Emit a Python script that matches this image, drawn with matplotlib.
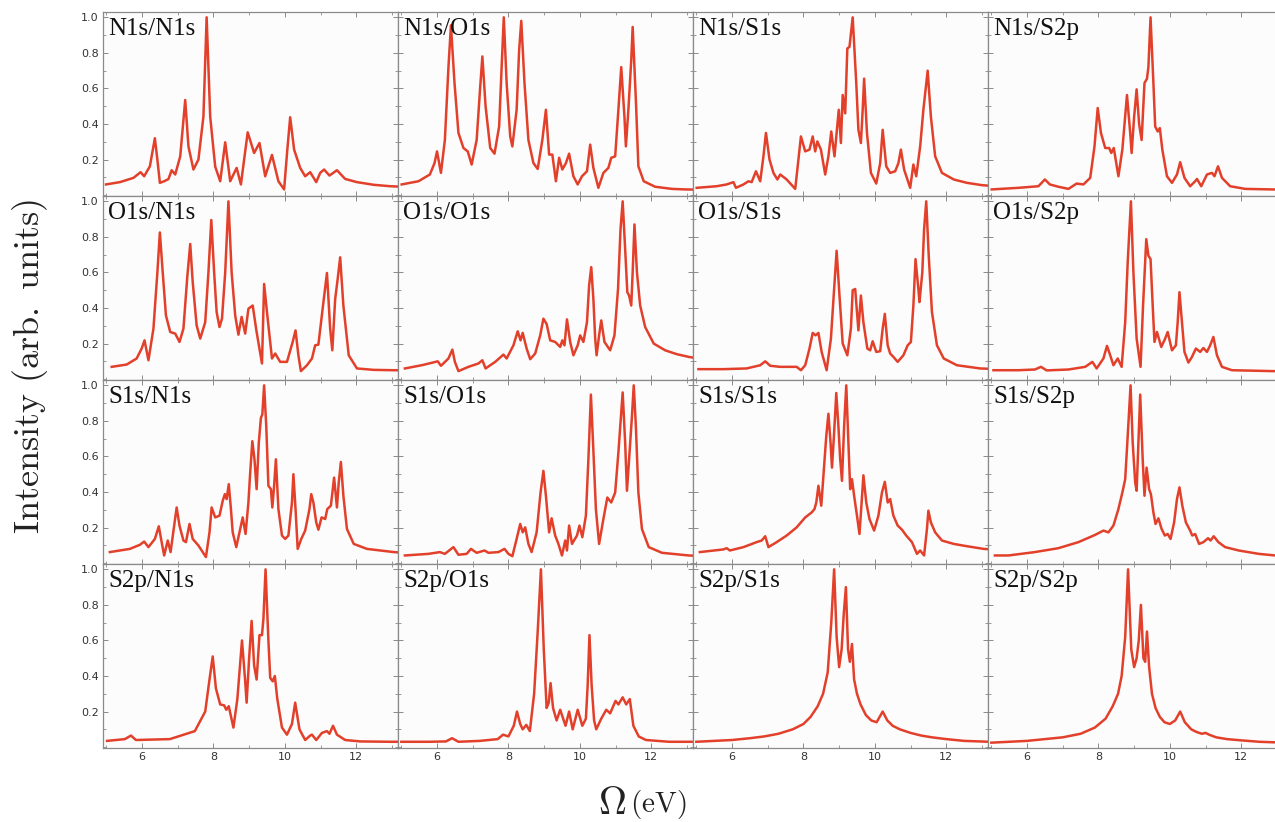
import numpy as np
import matplotlib.pyplot as plt
import matplotlib as mpl
from matplotlib.ticker import MultipleLocator

mpl.rcParams['mathtext.fontset'] = 'cm'

# ==========================================
# panel labels (rows: first core hole, cols: second core hole)
# ==========================================
EDGES = ['N1s', 'O1s', 'S1s', 'S2p']
X_TICKS = [6, 8, 10, 12]
Y_TICKS = [0.2, 0.4, 0.6, 0.8, 1.0]

# ==========================================
# spectra: energy (eV) / intensity (arb. units)
# ==========================================
n1s_n1s_ev = [4.99, 5.38, 5.76, 5.96, 6.06, 6.22, 6.36, 6.43, 6.50, 6.62, 6.74, 6.83, 6.93, 7.07, 7.21,
              7.30, 7.44, 7.58, 7.72, 7.81, 7.91, 8.05, 8.19, 8.33, 8.47, 8.65, 8.77, 8.86, 8.96, 9.14,
              9.29, 9.45, 9.64, 9.82, 9.98, 10.07, 10.15, 10.26, 10.43, 10.57, 10.71, 10.88, 10.99,
              11.10, 11.25, 11.46, 11.69, 12.02, 12.49, 12.95, 13.2]
n1s_n1s_int = [0.06, 0.073, 0.097, 0.129, 0.106, 0.162, 0.32, 0.20, 0.069, 0.078, 0.09, 0.14, 0.116,
               0.218, 0.535, 0.274, 0.144, 0.20, 0.442, 1.0, 0.44, 0.16, 0.078, 0.297, 0.078, 0.153,
               0.06, 0.20, 0.353, 0.237, 0.293, 0.106, 0.226, 0.078, 0.032, 0.256, 0.438, 0.256, 0.153,
               0.106, 0.129, 0.073, 0.125, 0.144, 0.11, 0.14, 0.091, 0.073, 0.058, 0.05, 0.048]

n1s_o1s_ev = [5.01, 5.48, 5.80, 5.93, 6.00, 6.11, 6.22, 6.32, 6.39, 6.49, 6.60, 6.74, 6.86, 6.97, 7.11,
              7.21, 7.27, 7.36, 7.49, 7.61, 7.74, 7.81, 7.87, 7.95, 8.05, 8.11, 8.23, 8.30, 8.36, 8.45,
              8.56, 8.70, 8.82, 8.95, 9.05, 9.14, 9.23, 9.33, 9.42, 9.51, 9.61, 9.70, 9.82, 9.94,
              10.06, 10.20, 10.29, 10.38, 10.52, 10.66, 10.80, 10.88, 10.99, 11.08, 11.16, 11.25,
              11.29, 11.36, 11.44, 11.48, 11.57, 11.64, 11.79, 12.11, 12.58, 12.95, 13.2]
n1s_o1s_int = [0.06, 0.078, 0.116, 0.18, 0.246, 0.125, 0.31, 0.72, 0.955, 0.63, 0.35, 0.265, 0.246,
               0.172, 0.31, 0.61, 0.78, 0.50, 0.265, 0.233, 0.386, 0.72, 1.0, 0.63, 0.33, 0.274, 0.48,
               0.815, 0.98, 0.63, 0.31, 0.18, 0.147, 0.31, 0.48, 0.228, 0.228, 0.078, 0.21, 0.144,
               0.18, 0.233, 0.106, 0.06, 0.106, 0.134, 0.284, 0.153, 0.041, 0.125, 0.153, 0.21, 0.218,
               0.48, 0.72, 0.44, 0.274, 0.48, 0.757, 0.946, 0.535, 0.162, 0.078, 0.047, 0.035, 0.032,
               0.031]

n1s_s1s_ev = [5.01, 5.57, 5.85, 6.04, 6.11, 6.32, 6.46, 6.55, 6.67, 6.79, 6.88, 6.95, 7.05, 7.16, 7.27,
              7.35, 7.53, 7.77, 7.86, 7.93, 8.05, 8.17, 8.26, 8.33, 8.39, 8.49, 8.61, 8.70, 8.78, 8.87,
              8.93, 8.99, 9.05, 9.10, 9.17, 9.23, 9.29, 9.38, 9.48, 9.54, 9.61, 9.66, 9.70, 9.78, 9.89,
              10.04, 10.15, 10.22, 10.32, 10.43, 10.57, 10.66, 10.73, 10.82, 10.99, 11.08, 11.16,
              11.27, 11.36, 11.48, 11.57, 11.69, 11.88, 12.21, 12.58, 13.0, 13.2]
n1s_s1s_int = [0.041, 0.05, 0.06, 0.073, 0.041, 0.06, 0.078, 0.073, 0.134, 0.078, 0.218, 0.35, 0.20,
               0.125, 0.088, 0.116, 0.088, 0.035, 0.20, 0.33, 0.246, 0.256, 0.33, 0.246, 0.302, 0.256,
               0.116, 0.218, 0.358, 0.218, 0.35, 0.48, 0.293, 0.563, 0.46, 0.825, 0.834, 1.0, 0.63,
               0.367, 0.293, 0.48, 0.655, 0.35, 0.125, 0.065, 0.18, 0.367, 0.162, 0.125, 0.134, 0.18,
               0.256, 0.144, 0.041, 0.172, 0.106, 0.274, 0.48, 0.70, 0.442, 0.218, 0.125, 0.088, 0.069,
               0.056, 0.053]

n1s_s2p_ev = [5.01, 5.76, 6.32, 6.50, 6.64, 6.88, 7.16, 7.39, 7.58, 7.77, 7.89, 7.98, 8.07, 8.19, 8.30,
              8.36, 8.43, 8.56, 8.67, 8.80, 8.89, 8.93, 9.00, 9.07, 9.14, 9.21, 9.29, 9.36, 9.40, 9.46,
              9.54, 9.59, 9.66, 9.72, 9.79, 9.92, 10.06, 10.20, 10.29, 10.41, 10.57, 10.71, 10.76,
              10.88, 11.04, 11.18, 11.25, 11.35, 11.46, 11.69, 12.11, 12.86, 13.2]
n1s_s2p_int = [0.032, 0.041, 0.05, 0.088, 0.06, 0.047, 0.035, 0.065, 0.06, 0.097, 0.274, 0.49, 0.35,
               0.265, 0.265, 0.237, 0.265, 0.106, 0.256, 0.563, 0.35, 0.237, 0.44, 0.595, 0.40, 0.31,
               0.63, 0.655, 0.72, 1.0, 0.63, 0.386, 0.358, 0.377, 0.256, 0.106, 0.069, 0.116, 0.185,
               0.097, 0.05, 0.078, 0.091, 0.05, 0.116, 0.125, 0.106, 0.162, 0.097, 0.05, 0.035, 0.032,
               0.031]

o1s_n1s_ev = [5.15, 5.57, 5.85, 5.99, 6.07, 6.18, 6.32, 6.43, 6.50, 6.58, 6.67, 6.79, 6.93, 7.05, 7.16,
              7.27, 7.35, 7.42, 7.53, 7.63, 7.77, 7.86, 7.94, 8.02, 8.09, 8.17, 8.24, 8.33, 8.42, 8.51,
              8.61, 8.70, 8.79, 8.89, 8.98, 9.10, 9.21, 9.36, 9.42, 9.50, 9.57, 9.64, 9.73, 9.87,
              10.06, 10.22, 10.30, 10.38, 10.45, 10.62, 10.76, 10.85, 10.94, 11.07, 11.18, 11.27,
              11.33, 11.41, 11.48, 11.55, 11.64, 11.79, 12.02, 12.49, 13.05, 13.2]
o1s_n1s_int = [0.069, 0.082, 0.116, 0.172, 0.218, 0.106, 0.284, 0.60, 0.825, 0.60, 0.358, 0.265, 0.256,
               0.209, 0.284, 0.58, 0.76, 0.545, 0.302, 0.228, 0.32, 0.60, 0.895, 0.60, 0.377, 0.293,
               0.34, 0.60, 1.0, 0.60, 0.358, 0.25, 0.35, 0.256, 0.396, 0.414, 0.265, 0.088, 0.535, 0.377,
               0.246, 0.116, 0.144, 0.097, 0.097, 0.209, 0.274, 0.134, 0.045, 0.078, 0.116, 0.19, 0.194,
               0.414, 0.597, 0.284, 0.162, 0.45, 0.563, 0.685, 0.414, 0.134, 0.06, 0.052, 0.05, 0.05]

o1s_o1s_ev = [5.10, 5.57, 6.02, 6.11, 6.32, 6.43, 6.50, 6.60, 6.88, 7.16, 7.27, 7.36, 7.63, 7.86, 7.95,
              8.14, 8.26, 8.34, 8.40, 8.51, 8.61, 8.75, 8.89, 8.98, 9.07, 9.17, 9.31, 9.45, 9.51, 9.57,
              9.64, 9.73, 9.82, 9.94, 10.01, 10.10, 10.20, 10.26, 10.32, 10.38, 10.43, 10.47, 10.54,
              10.60, 10.69, 10.85, 10.97, 11.07, 11.14, 11.20, 11.27, 11.33, 11.38, 11.44, 11.48,
              11.53, 11.60, 11.69, 11.83, 12.07, 12.39, 12.72, 13.05, 13.2]
o1s_o1s_int = [0.06, 0.078, 0.10, 0.075, 0.116, 0.166, 0.097, 0.045, 0.069, 0.088, 0.106, 0.06, 0.097,
               0.138, 0.116, 0.19, 0.269, 0.218, 0.26, 0.172, 0.112, 0.144, 0.246, 0.34, 0.31, 0.218,
               0.209, 0.181, 0.218, 0.19, 0.336, 0.209, 0.134, 0.19, 0.246, 0.209, 0.32, 0.526, 0.63,
               0.45, 0.228, 0.134, 0.246, 0.33, 0.209, 0.162, 0.246, 0.507, 0.843, 1.0, 0.73, 0.489,
               0.47, 0.414, 0.60, 0.87, 0.60, 0.414, 0.293, 0.20, 0.162, 0.14, 0.125, 0.12]

o1s_s1s_ev = [5.06, 5.76, 6.41, 6.79, 6.93, 7.07, 7.35, 7.81, 7.93, 8.05, 8.17, 8.26, 8.34, 8.42, 8.51,
              8.65, 8.77, 8.86, 8.93, 9.01, 9.10, 9.23, 9.33, 9.38, 9.45, 9.54, 9.61, 9.68, 9.79, 9.87,
              9.94, 10.04, 10.15, 10.22, 10.28, 10.36, 10.43, 10.52, 10.64, 10.80, 10.92, 11.01,
              11.08, 11.14, 11.22, 11.25, 11.33, 11.38, 11.44, 11.51, 11.60, 11.74, 11.93, 12.30,
              12.95, 13.2]
o1s_s1s_int = [0.056, 0.056, 0.06, 0.078, 0.10, 0.075, 0.069, 0.069, 0.05, 0.078, 0.172, 0.26, 0.246,
               0.26, 0.153, 0.05, 0.228, 0.507, 0.722, 0.47, 0.20, 0.134, 0.284, 0.50, 0.507, 0.274,
               0.47, 0.32, 0.172, 0.162, 0.213, 0.153, 0.157, 0.284, 0.367, 0.19, 0.144, 0.125, 0.097,
               0.134, 0.19, 0.209, 0.414, 0.675, 0.507, 0.433, 0.60, 0.843, 1.0, 0.694, 0.377, 0.19,
               0.116, 0.078, 0.06, 0.058]

o1s_s2p_ev = [5.06, 5.76, 6.22, 6.39, 6.55, 7.16, 7.63, 7.83, 7.95, 8.14, 8.24, 8.33, 8.42, 8.54, 8.65,
              8.75, 8.82, 8.91, 8.98, 9.07, 9.18, 9.25, 9.34, 9.40, 9.46, 9.52, 9.57, 9.64, 9.76, 9.87,
              9.94, 10.06, 10.17, 10.22, 10.27, 10.34, 10.41, 10.52, 10.62, 10.73, 10.85, 10.94,
              11.04, 11.13, 11.22, 11.32, 11.46, 11.74, 12.86, 13.2]
o1s_s2p_int = [0.05, 0.05, 0.054, 0.069, 0.049, 0.054, 0.069, 0.097, 0.06, 0.116, 0.187, 0.134, 0.078,
               0.116, 0.069, 0.32, 0.657, 1.0, 0.60, 0.228, 0.069, 0.414, 0.787, 0.694, 0.675, 0.414,
               0.209, 0.265, 0.181, 0.228, 0.265, 0.162, 0.19, 0.32, 0.489, 0.32, 0.153, 0.093, 0.125,
               0.172, 0.153, 0.175, 0.153, 0.19, 0.237, 0.134, 0.069, 0.05, 0.045, 0.045]

s1s_n1s_ev = [5.10, 5.66, 5.94, 6.06, 6.18, 6.36, 6.47, 6.55, 6.62, 6.72, 6.80, 6.90, 6.97, 7.05, 7.16,
              7.23, 7.33, 7.42, 7.58, 7.79, 7.89, 7.95, 8.05, 8.17, 8.26, 8.32, 8.37, 8.43, 8.49, 8.54,
              8.64, 8.73, 8.82, 8.90, 8.98, 9.03, 9.09, 9.15, 9.21, 9.27, 9.33, 9.37, 9.42, 9.48, 9.54,
              9.61, 9.65, 9.70, 9.75, 9.82, 9.92, 10.01, 10.10, 10.20, 10.24, 10.30, 10.36, 10.46,
              10.57, 10.69, 10.74, 10.80, 10.88, 10.94, 11.03, 11.13, 11.19, 11.29, 11.38, 11.46,
              11.51, 11.57, 11.64, 11.74, 11.93, 12.30, 13.05, 13.2]
s1s_n1s_int = [0.062, 0.08, 0.103, 0.121, 0.09, 0.136, 0.207, 0.118, 0.043, 0.127, 0.062, 0.21, 0.313,
               0.21, 0.127, 0.118, 0.22, 0.136, 0.099, 0.034, 0.173, 0.313, 0.257, 0.267, 0.35, 0.388,
               0.36, 0.444, 0.304, 0.173, 0.09, 0.173, 0.257, 0.164, 0.341, 0.509, 0.686, 0.584, 0.416,
               0.675, 0.817, 0.836, 1.0, 0.77, 0.435, 0.416, 0.313, 0.435, 0.584, 0.304, 0.155, 0.136,
               0.155, 0.341, 0.50, 0.304, 0.08, 0.136, 0.183, 0.304, 0.388, 0.341, 0.229, 0.188, 0.257,
               0.248, 0.304, 0.323, 0.481, 0.313, 0.453, 0.569, 0.379, 0.192, 0.108, 0.08, 0.062, 0.06]

s1s_o1s_ev = [5.10, 5.76, 6.08, 6.22, 6.46, 6.60, 6.83, 6.95, 7.11, 7.33, 7.44, 7.72, 7.89, 8.00, 8.11,
              8.23, 8.33, 8.40, 8.47, 8.56, 8.65, 8.79, 8.90, 8.98, 9.05, 9.14, 9.21, 9.31, 9.40, 9.50,
              9.59, 9.64, 9.70, 9.78, 9.92, 9.99, 10.07, 10.17, 10.24, 10.31, 10.37, 10.45, 10.54,
              10.66, 10.77, 10.88, 10.99, 11.08, 11.20, 11.27, 11.32, 11.38, 11.46, 11.51, 11.57,
              11.64, 11.74, 11.93, 12.30, 13.05, 13.2]
s1s_o1s_int = [0.043, 0.052, 0.062, 0.052, 0.09, 0.047, 0.052, 0.08, 0.058, 0.071, 0.058, 0.062, 0.08,
               0.052, 0.039, 0.136, 0.22, 0.173, 0.201, 0.108, 0.062, 0.173, 0.397, 0.519, 0.379, 0.173,
               0.252, 0.155, 0.108, 0.043, 0.127, 0.071, 0.211, 0.108, 0.155, 0.211, 0.146, 0.267,
               0.584, 0.948, 0.677, 0.304, 0.108, 0.248, 0.369, 0.341, 0.397, 0.622, 0.96, 0.677, 0.407,
               0.584, 0.826, 1.0, 0.77, 0.397, 0.192, 0.09, 0.058, 0.043, 0.042]

s1s_s1s_ev = [5.10, 5.76, 5.85, 5.94, 6.32, 6.69, 6.83, 6.93, 7.02, 7.25, 7.53, 7.81, 8.05, 8.23, 8.31,
              8.36, 8.42, 8.50, 8.56, 8.64, 8.70, 8.76, 8.80, 8.86, 8.92, 8.98, 9.03, 9.08, 9.14, 9.20,
              9.26, 9.31, 9.36, 9.42, 9.50, 9.57, 9.63, 9.68, 9.76, 9.85, 9.98, 10.10, 10.20, 10.28,
              10.36, 10.43, 10.52, 10.64, 10.76, 10.88, 11.04, 11.18, 11.27, 11.38, 11.46, 11.50,
              11.57, 11.69, 11.88, 12.21, 12.58, 13.05, 13.2]
s1s_s1s_int = [0.062, 0.077, 0.084, 0.071, 0.09, 0.118, 0.127, 0.151, 0.09, 0.118, 0.155, 0.201, 0.257,
               0.285, 0.304, 0.341, 0.435, 0.323, 0.491, 0.715, 0.84, 0.677, 0.537, 0.733, 0.957, 0.77,
               0.584, 0.463, 0.77, 1.0, 0.677, 0.416, 0.472, 0.379, 0.267, 0.164, 0.341, 0.494, 0.341,
               0.248, 0.183, 0.267, 0.397, 0.457, 0.341, 0.36, 0.267, 0.211, 0.188, 0.155, 0.118, 0.052,
               0.071, 0.043, 0.192, 0.295, 0.229, 0.173, 0.127, 0.108, 0.095, 0.08, 0.078]

s1s_s2p_ev = [5.10, 5.48, 6.22, 6.88, 7.44, 7.91, 8.14, 8.28, 8.42, 8.56, 8.67, 8.75, 8.82, 8.90, 8.96,
              9.03, 9.07, 9.12, 9.17, 9.24, 9.29, 9.35, 9.42, 9.47, 9.54, 9.60, 9.68, 9.77, 9.86, 9.94,
              10.02, 10.12, 10.20, 10.27, 10.35, 10.45, 10.57, 10.63, 10.71, 10.82, 10.94, 11.07,
              11.14, 11.23, 11.36, 11.55, 11.93, 12.49, 12.95, 13.2]
s1s_s2p_int = [0.043, 0.043, 0.062, 0.084, 0.118, 0.159, 0.183, 0.173, 0.211, 0.304, 0.397, 0.472, 0.715,
               1.0, 0.677, 0.453, 0.407, 0.677, 0.948, 0.584, 0.379, 0.537, 0.416, 0.388, 0.285, 0.22,
               0.252, 0.192, 0.155, 0.164, 0.136, 0.229, 0.36, 0.426, 0.323, 0.229, 0.183, 0.155, 0.164,
               0.108, 0.118, 0.14, 0.127, 0.151, 0.118, 0.09, 0.071, 0.052, 0.043, 0.042]

s2p_n1s_ev = [5.02, 5.52, 5.69, 5.83, 6.78, 7.48, 7.77, 7.89, 7.98, 8.07, 8.19, 8.30, 8.36, 8.43, 8.56,
              8.67, 8.80, 8.89, 8.93, 9.00, 9.07, 9.14, 9.21, 9.29, 9.36, 9.40, 9.46, 9.54, 9.59, 9.66,
              9.72, 9.79, 9.92, 10.06, 10.20, 10.29, 10.41, 10.57, 10.71, 10.76, 10.88, 11.04, 11.18,
              11.25, 11.35, 11.46, 11.69, 12.11, 12.95, 13.2]
s2p_n1s_int = [0.035, 0.045, 0.065, 0.04, 0.045, 0.09, 0.2, 0.38, 0.51, 0.33, 0.24, 0.235, 0.21, 0.23,
               0.11, 0.27, 0.60, 0.37, 0.25, 0.50, 0.71, 0.46, 0.38, 0.63, 0.63, 0.72, 1.0, 0.60, 0.39,
               0.37, 0.40, 0.27, 0.11, 0.07, 0.13, 0.25, 0.10, 0.04, 0.065, 0.07, 0.04, 0.08, 0.09, 0.075,
               0.12, 0.07, 0.04, 0.032, 0.03, 0.03]

s2p_o1s_ev = [5.0, 5.8, 6.25, 6.42, 6.6, 7.2, 7.7, 7.85, 8.0, 8.15, 8.24, 8.33, 8.40, 8.50, 8.60, 8.72,
              8.82, 8.91, 8.99, 9.07, 9.13, 9.18, 9.25, 9.35, 9.45, 9.60, 9.70, 9.80, 9.94, 10.07,
              10.17, 10.22, 10.27, 10.33, 10.40, 10.46, 10.60, 10.74, 10.85, 11.0, 11.08, 11.20,
              11.30, 11.40, 11.50, 11.65, 11.85, 12.5, 13.2]
s2p_o1s_int = [0.03, 0.03, 0.032, 0.05, 0.03, 0.035, 0.045, 0.07, 0.06, 0.12, 0.2, 0.13, 0.10, 0.125,
               0.09, 0.3, 0.65, 1.0, 0.55, 0.22, 0.25, 0.36, 0.22, 0.15, 0.21, 0.12, 0.2, 0.10, 0.21,
               0.12, 0.16, 0.35, 0.63, 0.35, 0.15, 0.10, 0.16, 0.21, 0.19, 0.26, 0.24, 0.28, 0.24, 0.27,
               0.12, 0.06, 0.04, 0.03, 0.03]

s2p_s1s_ev = [5.0, 5.5, 6.0, 6.5, 6.9, 7.3, 7.7, 8.0, 8.2, 8.4, 8.55, 8.68, 8.78, 8.86, 8.93, 9.0,
              9.07, 9.13, 9.19, 9.25, 9.30, 9.36, 9.42, 9.50, 9.60, 9.75, 9.90, 10.05, 10.22, 10.35,
              10.5, 10.7, 11.0, 11.3, 11.6, 12.0, 12.5, 13.2]
s2p_s1s_int = [0.03, 0.035, 0.04, 0.05, 0.06, 0.075, 0.1, 0.13, 0.17, 0.23, 0.3, 0.42, 0.7, 1.0, 0.62,
               0.45, 0.55, 0.75, 0.9, 0.55, 0.48, 0.58, 0.38, 0.3, 0.24, 0.18, 0.15, 0.14, 0.2, 0.15,
               0.12, 0.1, 0.08, 0.065, 0.055, 0.045, 0.035, 0.03]

s2p_s2p_ev = [5.0, 5.5, 6.0, 6.5, 7.0, 7.5, 7.9, 8.2, 8.4, 8.55, 8.65, 8.75, 8.83, 8.92, 9.0, 9.07,
              9.13, 9.19, 9.26, 9.31, 9.36, 9.42, 9.50, 9.60, 9.72, 9.85, 10.0, 10.15, 10.29, 10.42,
              10.6, 10.75, 10.9, 11.0, 11.1, 11.3, 11.6, 12.0, 12.5, 13.2]
s2p_s2p_int = [0.025, 0.03, 0.035, 0.045, 0.055, 0.075, 0.11, 0.16, 0.23, 0.3, 0.4, 0.62, 1.0, 0.55,
               0.45, 0.5, 0.6, 0.8, 0.5, 0.48, 0.65, 0.45, 0.3, 0.22, 0.17, 0.14, 0.13, 0.15, 0.2, 0.14,
               0.1, 0.085, 0.075, 0.08, 0.07, 0.055, 0.045, 0.038, 0.03, 0.025]

SPECTRA = [
    [(n1s_n1s_ev, n1s_n1s_int), (n1s_o1s_ev, n1s_o1s_int), (n1s_s1s_ev, n1s_s1s_int), (n1s_s2p_ev, n1s_s2p_int)],
    [(o1s_n1s_ev, o1s_n1s_int), (o1s_o1s_ev, o1s_o1s_int), (o1s_s1s_ev, o1s_s1s_int), (o1s_s2p_ev, o1s_s2p_int)],
    [(s1s_n1s_ev, s1s_n1s_int), (s1s_o1s_ev, s1s_o1s_int), (s1s_s1s_ev, s1s_s1s_int), (s1s_s2p_ev, s1s_s2p_int)],
    [(s2p_n1s_ev, s2p_n1s_int), (s2p_o1s_ev, s2p_o1s_int), (s2p_s1s_ev, s2p_s1s_int), (s2p_s2p_ev, s2p_s2p_int)],
]

# ==========================================
# layout (pixel geometry of the 1275x822 picture)
# ==========================================
W, H = 1275, 822
LEFT, TOP = 103, 12
PW, PH = 295, 184
LINE_COLOR = '#e2402b'
FRAME_COLOR = '#8a8a8a'

fig = plt.figure(figsize=(W / 100, H / 100), dpi=100)
fig.patch.set_facecolor('white')

for r in range(4):
    for c in range(4):
        ax = fig.add_axes([(LEFT + c * PW) / W, (H - TOP - (r + 1) * PH) / H, PW / W, PH / H])
        ax.set_facecolor('#fcfcfc')
        ev, inten = SPECTRA[r][c]
        ax.plot(ev, inten, color=LINE_COLOR, lw=1.8, solid_joinstyle='round', clip_on=True)

        ax.set_xlim(4.907, 13.17)
        ax.set_ylim(-0.005, 1.03)
        ax.set_xticks(X_TICKS)
        ax.set_yticks(Y_TICKS)
        ax.xaxis.set_minor_locator(MultipleLocator(1))
        ax.yaxis.set_minor_locator(MultipleLocator(0.1))
        ax.tick_params(which='both', direction='in', top=True, right=True, color=FRAME_COLOR,
                       labelsize=8, labelcolor='#333333', pad=3)
        ax.tick_params(which='major', length=3.5, width=0.7)
        ax.tick_params(which='minor', length=2, width=0.6)
        for sp in ax.spines.values():
            sp.set_color(FRAME_COLOR)
            sp.set_linewidth(0.9)

        if c == 0:
            ax.set_yticklabels([f'{v:.1f}' for v in Y_TICKS])
        else:
            ax.set_yticklabels([])
        if r == 3:
            ax.set_xticklabels([str(v) for v in X_TICKS])
        else:
            ax.set_xticklabels([])

        ax.text(0.018, 0.965, f'{EDGES[r]}/{EDGES[c]}', transform=ax.transAxes, ha='left', va='top',
                fontsize=18, family='Liberation Serif', color='#111111')

# axis titles
fig.text(30 / W, 1 - 366 / H, r'$\mathrm{Intensity\ (arb.\ units)}$', rotation=90,
         ha='center', va='center', fontsize=26, color='#222222')
fig.text(612 / W, 1 - 803 / H, r'$\Omega$', ha='center', va='center', fontsize=28, color='#222222')
fig.text(630 / W, 1 - 804 / H, r'$\mathrm{(eV)}$', ha='left', va='center', fontsize=21, color='#222222')

plt.savefig('out.png', dpi=100)
